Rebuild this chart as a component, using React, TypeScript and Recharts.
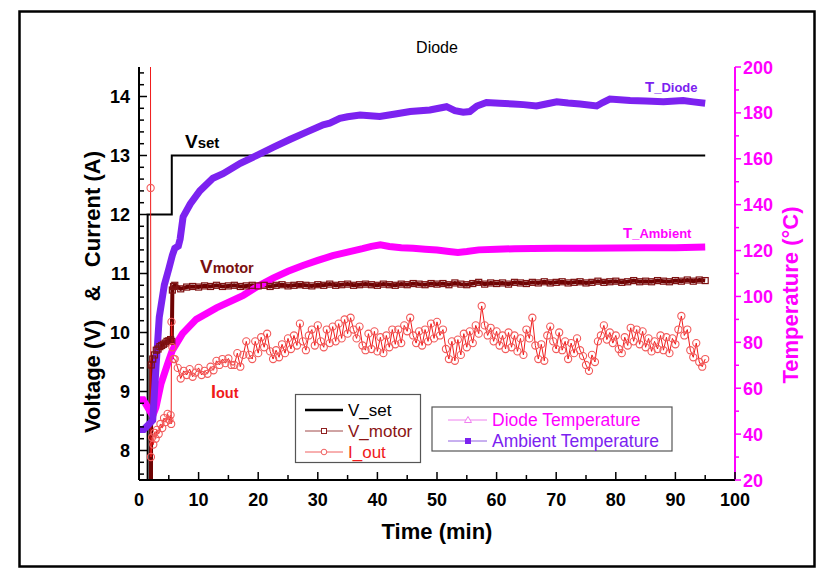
import React from 'react';
import { ComposedChart, Line, XAxis, YAxis } from 'recharts';

const FONT = 'Arial, "Liberation Sans", Helvetica, sans-serif';

// ---------- data (time in min) ----------
const vSetTime = [1.45, 1.45, 5.5, 5.5, 95];
const vSetValue = [7.0, 12, 12, 13, 13];

const vMotorEarlyTime = [2.0, 2.05, 2.3, 2.6, 2.9, 3.2, 3.5, 3.8, 4.1, 4.4, 4.7, 5.0, 5.3, 5.5, 5.6, 5.8];
const vMotorEarlyValue = [7.0, 9.45, 9.55, 9.62, 9.7, 9.72, 9.76, 9.78, 9.8, 9.82, 9.85, 9.86, 9.88, 9.85, 10.72, 10.78];
const vMotorStart = 6;
const vMotorStep = 1;
const vMotorValue = [
  10.8, 10.74, 10.77, 10.78, 10.77, 10.79, 10.78, 10.8, 10.78, 10.79,
  10.8, 10.78, 10.79, 10.8, 10.79, 10.8, 10.78, 10.8, 10.81, 10.79,
  10.8, 10.81, 10.8, 10.79, 10.81, 10.8, 10.82, 10.8, 10.81, 10.82,
  10.8, 10.81, 10.82, 10.81, 10.8, 10.82, 10.81, 10.8, 10.82, 10.81,
  10.83, 10.82, 10.81, 10.83, 10.82, 10.83, 10.81, 10.84, 10.82, 10.81,
  10.83, 10.85, 10.82, 10.84, 10.83, 10.84, 10.82, 10.85, 10.84, 10.83,
  10.85, 10.84, 10.86, 10.84, 10.85, 10.86, 10.84, 10.85, 10.86, 10.84,
  10.85, 10.87, 10.85, 10.86, 10.87, 10.85, 10.86, 10.88, 10.86, 10.87,
  10.86, 10.88, 10.87, 10.86, 10.88, 10.87, 10.89, 10.87, 10.89, 10.88,
];

const iOutEarlyTime = [1.92, 1.95, 2.0, 2.2, 2.4, 2.6, 2.8, 3.0, 3.3, 3.6, 3.9, 4.2, 4.5, 4.8, 5.1, 5.3, 5.4, 5.45, 5.6, 5.8];
const iOutEarlyValue = [15.5, 12.45, 7.89, 8.22, 8.1, 8.3, 8.2, 8.35, 8.28, 8.45, 8.38, 8.55, 8.48, 8.62, 8.52, 8.6, 8.45, 10.18, 9.75, 9.55];
const iOutStart = 6;
const iOutStep = 0.5;
const iOutValue = [
  9.55, 9.4, 9.22, 9.35, 9.28, 9.38, 9.25, 9.32, 9.4, 9.28,
  9.35, 9.3, 9.42, 9.36, 9.52, 9.45, 9.55, 9.48, 9.56, 9.45,
  9.45, 9.65, 9.42, 9.62, 9.85, 9.62, 9.55, 9.85, 9.65, 9.92,
  9.75, 9.98, 9.68, 9.55, 9.7, 9.58, 9.8, 9.65, 9.9, 9.72,
  9.95, 9.78, 10.15, 9.85, 9.7, 9.95, 10.05, 9.78, 10.12, 9.85,
  9.75, 10.05, 9.82, 10.1, 9.85, 10.15, 9.9, 10.22, 9.98, 10.25,
  10.05, 9.9, 10.1, 9.78, 9.7, 9.98, 9.72, 10.02, 9.68, 9.92,
  9.65, 9.95, 9.75, 10.05, 9.8, 10.05, 9.82, 10.12, 10.02, 10.25,
  9.95, 9.82, 10.02, 9.78, 10.05, 9.85, 10.15, 9.9, 10.18, 9.95,
  10.05, 9.72, 9.55, 9.85, 9.52, 9.88, 9.62, 9.98, 9.75, 10.02,
  9.82, 10.12, 9.98, 10.45, 10.12, 9.95, 10.08, 9.85, 10.02, 9.78,
  9.95, 9.72, 10.0, 9.75, 9.95, 9.68, 9.9, 9.62, 10.05, 9.9,
  10.25, 9.78, 9.55, 9.8, 9.52, 9.95, 10.1, 9.85, 9.72, 10.0,
  9.7, 9.85, 9.55, 9.82, 9.65, 9.9, 9.7, 9.6, 9.45, 9.35,
  9.62, 9.5, 9.85, 9.95, 10.12, 9.88, 10.0, 9.82, 9.95, 9.72,
  9.65, 9.92, 9.78, 10.08, 9.85, 10.05, 9.8, 10.02, 9.75, 9.9,
  9.68, 9.85, 9.72, 9.95, 9.7, 9.92, 9.65, 9.9, 9.8, 10.05,
  10.28, 9.95, 10.05, 9.7, 9.58, 9.82, 9.5, 9.42, 9.55,
];

// temperatures (right axis, °C)
const tDiodeTime = [0, 0.8, 2.3, 2.85, 3.4, 4.25, 5.0, 5.6, 6.0, 6.6, 6.9, 7.4, 8.6, 10.2, 12.4, 14.1, 17, 19.7, 22.5, 25.3, 28, 30.9, 32, 33.7, 35, 37.1, 40.4, 43, 45.5, 48.8, 51.6, 53, 54.4, 55.5, 56.7, 58.3, 60.5, 62.8, 64.5, 66.7, 68.5, 70.1, 72, 74, 76.8, 77.8, 79, 82.4, 85, 88, 91.3, 93, 95];
const tDiodeValue = [42, 42, 46, 69, 91, 105, 112, 118, 121, 122, 125, 134.7, 140.3, 146, 151.5, 153.5, 158, 161.4, 165, 168.4, 171.5, 174.8, 175.5, 177.6, 178.3, 179.1, 178.4, 179.5, 180.6, 181.3, 182.7, 181, 180.3, 180.6, 183, 184.5, 184.2, 183.9, 183.6, 183, 184, 184.8, 184.3, 183.9, 183, 184.5, 186, 185.4, 185.2, 184.9, 185.4, 184.8, 184.2];

const tAmbTime = [0, 0.7, 2.3, 2.85, 3.7, 4.8, 5.6, 7.3, 9.6, 13, 17.5, 20, 22.5, 25, 27.5, 30, 32.5, 35, 37.5, 39, 40.5, 42, 44, 46, 48, 50, 52, 53.5, 55, 57, 60, 63, 66, 70, 75, 80, 85, 90, 95];
const tAmbValue = [55, 55, 48, 51.7, 62, 70.6, 76.5, 83.8, 90, 95, 100.5, 104.5, 108, 111, 113.5, 115.7, 117.8, 119.3, 120.8, 121.8, 122.5, 121.8, 121.2, 121, 120.6, 120.2, 119.6, 119.2, 119.6, 120.3, 120.6, 120.8, 120.9, 121, 121, 121.1, 121.2, 121.2, 121.5];

// axis tick labels
const xTickLabels = [0, 10, 20, 30, 40, 50, 60, 70, 80, 90, 100];
const leftTickLabels = [8, 9, 10, 11, 12, 13, 14];
const rightTickLabels = [20, 40, 60, 80, 100, 120, 140, 160, 180, 200];

// ---------- build series ----------
const zip = (ts: number[], vs: number[]) => vs.map((v, i) => ({ t: ts[i], v }));
const grid = (start: number, step: number, vs: number[]) => vs.map((v, i) => ({ t: start + i * step, v }));

const vSetData = zip(vSetTime, vSetValue);
const vMotorData = [...zip(vMotorEarlyTime, vMotorEarlyValue), ...grid(vMotorStart, vMotorStep, vMotorValue)];
const iOutData = [...zip(iOutEarlyTime, iOutEarlyValue), ...grid(iOutStart, iOutStep, iOutValue)];
const tDiodeData = zip(tDiodeTime, tDiodeValue);
const tAmbData = zip(tAmbTime, tAmbValue);

const round1 = (v: number) => Math.round(v * 10) / 10;
const xTicks: number[] = [];
for (let i = 0; i < xTickLabels.length; i++) {
  xTicks.push(xTickLabels[i]);
  if (i < xTickLabels.length - 1) xTicks.push((xTickLabels[i] + xTickLabels[i + 1]) / 2);
}
const leftTicks: number[] = [];
for (let k = 0; k <= 34; k++) leftTicks.push(round1(7.6 + k * 0.2));
const rightTicks: number[] = [];
for (let i = 0; i < rightTickLabels.length; i++) {
  rightTicks.push(rightTickLabels[i]);
  if (i < rightTickLabels.length - 1) rightTicks.push((rightTickLabels[i] + rightTickLabels[i + 1]) / 2);
}

const MAGENTA = '#FF00FF';
const PURPLE = '#7C22F0';
const DARKRED = '#6E0303';
const RED = '#F01A1A';

// ---------- tick renderers ----------
const BottomTick = (p: any) => {
  const { x, y, payload } = p;
  const major = xTickLabels.includes(payload.value);
  return (
    <g>
      <line x1={x} x2={x} y1={y} y2={y - (major ? 8 : 5)} stroke="#000" strokeWidth={1.5} />
      {major && (
        <text x={x} y={y + 26} textAnchor="middle" fontFamily={FONT} fontWeight="bold" fontSize={18} fill="#000">
          {payload.value}
        </text>
      )}
    </g>
  );
};
const TopTick = (p: any) => {
  const { x, y, payload } = p;
  const major = xTickLabels.includes(payload.value);
  return <line x1={x} x2={x} y1={y} y2={y + (major ? 8 : 5)} stroke="#000" strokeWidth={1.5} />;
};
const LeftTick = (p: any) => {
  const { x, y, payload } = p;
  const major = leftTickLabels.includes(payload.value);
  return (
    <g>
      <line x1={x} x2={x + (major ? 8 : 5)} y1={y} y2={y} stroke="#000" strokeWidth={1.5} />
      {major && (
        <text x={x - 9} y={y + 6.5} textAnchor="end" fontFamily={FONT} fontWeight="bold" fontSize={18} fill="#000">
          {payload.value}
        </text>
      )}
    </g>
  );
};
const RightTick = (p: any) => {
  const { x, y, payload } = p;
  const major = rightTickLabels.includes(payload.value);
  return (
    <g>
      <line x1={x} x2={x + (major ? 6 : 4)} y1={y} y2={y} stroke={MAGENTA} strokeWidth={1.5} />
      {major && (
        <text x={x + 8} y={y + 6.5} textAnchor="start" fontFamily={FONT} fontWeight="bold" fontSize={18} fill={MAGENTA}>
          {payload.value}
        </text>
      )}
    </g>
  );
};

// ---------- dots ----------
const squareDot = (p: any) => {
  const { cx, cy, index } = p;
  if (cx == null || cy == null) return <g key={`s${index}`} />;
  return <rect key={`s${index}`} x={cx - 3} y={cy - 3} width={6} height={6} fill="none" stroke="#7E1212" strokeWidth={1.2} />;
};
const circleDot = (p: any) => {
  const { cx, cy, index } = p;
  if (cx == null || cy == null) return <g key={`c${index}`} />;
  return <circle key={`c${index}`} cx={cx} cy={cy} r={3.6} fill="none" stroke="#F25A5A" strokeWidth={1.1} />;
};

export default function App() {
  return (
    <div style={{ position: 'absolute', left: 0, top: 0, width: 832, height: 573, background: '#fff' }}>
      <div style={{ position: 'absolute', left: 0, top: 0 }}>
        <ComposedChart width={832} height={573} margin={{ top: 67, right: 37, bottom: 53, left: 89 }}>
          <XAxis
            xAxisId="b"
            dataKey="t"
            type="number"
            domain={[0, 100]}
            allowDataOverflow
            ticks={xTicks}
            interval={0}
            height={40}
            axisLine={{ stroke: '#000', strokeWidth: 2 }}
            tickLine={false}
            tickSize={0}
            tickMargin={0}
            tick={(p: any) => <BottomTick {...p} />}
          />
          <XAxis
            xAxisId="top"
            orientation="top"
            dataKey="t"
            type="number"
            domain={[0, 100]}
            allowDataOverflow
            ticks={xTicks}
            interval={0}
            height={0}
            axisLine={{ stroke: '#000', strokeWidth: 1.5 }}
            tickLine={false}
            tickSize={0}
            tickMargin={0}
            tick={(p: any) => <TopTick {...p} />}
          />
          <YAxis
            yAxisId="L"
            type="number"
            domain={[7.5, 14.5]}
            allowDataOverflow
            ticks={leftTicks}
            interval={0}
            width={50}
            axisLine={{ stroke: '#000', strokeWidth: 2 }}
            tickLine={false}
            tickSize={0}
            tickMargin={0}
            tick={(p: any) => <LeftTick {...p} />}
          />
          <YAxis
            yAxisId="R"
            orientation="right"
            type="number"
            domain={[20, 200]}
            allowDataOverflow
            ticks={rightTicks}
            interval={0}
            width={60}
            axisLine={{ stroke: MAGENTA, strokeWidth: 2 }}
            tickLine={false}
            tickSize={0}
            tickMargin={0}
            tick={(p: any) => <RightTick {...p} />}
          />
          <Line xAxisId="b" yAxisId="L" data={vSetData} dataKey="v" type="linear" stroke="#000" strokeWidth={2} dot={false} isAnimationActive={false} />
          <Line xAxisId="b" yAxisId="L" data={vMotorData} dataKey="v" type="linear" stroke={DARKRED} strokeWidth={4} dot={squareDot} isAnimationActive={false} />
          <Line xAxisId="b" yAxisId="L" data={iOutData} dataKey="v" type="linear" stroke={RED} strokeWidth={1} dot={circleDot} isAnimationActive={false} />
          <Line xAxisId="b" yAxisId="R" data={tAmbData} dataKey="v" type="linear" stroke={MAGENTA} strokeWidth={7} dot={false} isAnimationActive={false} />
          <Line xAxisId="b" yAxisId="R" data={tDiodeData} dataKey="v" type="linear" stroke={PURPLE} strokeWidth={7} dot={false} isAnimationActive={false} />
        </ComposedChart>
      </div>
      <svg width={832} height={573} style={{ position: 'absolute', left: 0, top: 0, pointerEvents: 'none' }} fontFamily={FONT}>
        <rect x={19.5} y={11.5} width={795} height={555} fill="none" stroke="#000" strokeWidth={2.5} />
        <text x={437} y={53} textAnchor="middle" fontSize={16} fill="#000">Diode</text>
        <text x={437} y={539} textAnchor="middle" fontSize={22} fontWeight="bold" fill="#000">Time (min)</text>
        <text
          x={100}
          y={292}
          transform="rotate(-90 100 292)"
          textAnchor="middle"
          fontSize={22}
          fontWeight="bold"
          fill="#000"
          style={{ whiteSpace: 'pre' }}
        >
          {'Voltage (V)   &   Current (A)'}
        </text>
        <text x={798} y={295} transform="rotate(-90 798 295)" textAnchor="middle" fontSize={22} fontWeight="bold" fill={MAGENTA}>
          Temperature (°C)
        </text>
        {/* inline series labels */}
        <text x={185} y={148} fontWeight="bold" fill="#000">
          <tspan fontSize={19}>V</tspan>
          <tspan fontSize={15}>set</tspan>
        </text>
        <text x={200} y={273} fontWeight="bold" fill="#7A1010">
          <tspan fontSize={19}>V</tspan>
          <tspan fontSize={14.5}>motor</tspan>
        </text>
        <text x={211} y={398} fontWeight="bold" fill={RED}>
          <tspan fontSize={18}>I</tspan>
          <tspan fontSize={14.5}>out</tspan>
        </text>
        <text x={645} y={92} fontWeight="bold" fill={PURPLE}>
          <tspan fontSize={15}>T</tspan>
          <tspan fontSize={13}>_Diode</tspan>
        </text>
        <text x={623} y={238} fontWeight="bold" fill={MAGENTA}>
          <tspan fontSize={15}>T</tspan>
          <tspan fontSize={13}>_Ambient</tspan>
        </text>
        {/* legend 1 */}
        <rect x={295.5} y={394.5} width={125} height={68} fill="#fff" stroke="#555" strokeWidth={1.2} />
        <line x1={305} x2={343} y1={410} y2={410} stroke="#000" strokeWidth={2.5} />
        <text x={348} y={416} fontSize={17} fill="#000">V_set</text>
        <line x1={305} x2={343} y1={431} y2={431} stroke="#A04848" strokeWidth={1} />
        <rect x={321.5} y={428.5} width={5} height={5} fill="#fff" stroke="#8E2020" strokeWidth={1} />
        <text x={348} y={437} fontSize={17} fill="#8B1515">V_motor</text>
        <line x1={305} x2={343} y1={452} y2={452} stroke="#F06060" strokeWidth={1} />
        <circle cx={324} cy={452} r={2.8} fill="#fff" stroke="#F06060" strokeWidth={1} />
        <text x={348} y={458} fontSize={17} fill={RED}>I_out</text>
        {/* legend 2 */}
        <rect x={432} y={407} width={240} height={44} fill="#fff" stroke="#555" strokeWidth={1.2} />
        <line x1={448} x2={487} y1={420} y2={420} stroke="#F080F0" strokeWidth={1} />
        <polygon points="468,416.5 471.5,422.5 464.5,422.5" fill="#fff" stroke="#F080F0" strokeWidth={1} />
        <text x={492} y={426} fontSize={17.5} fill={MAGENTA}>Diode Temperature</text>
        <line x1={448} x2={487} y1={441} y2={441} stroke="#9060E0" strokeWidth={1} />
        <rect x={465} y={438} width={6} height={6} fill={PURPLE} />
        <text x={492} y={447} fontSize={17.5} fill={PURPLE}>Ambient Temperature</text>
      </svg>
    </div>
  );
}
